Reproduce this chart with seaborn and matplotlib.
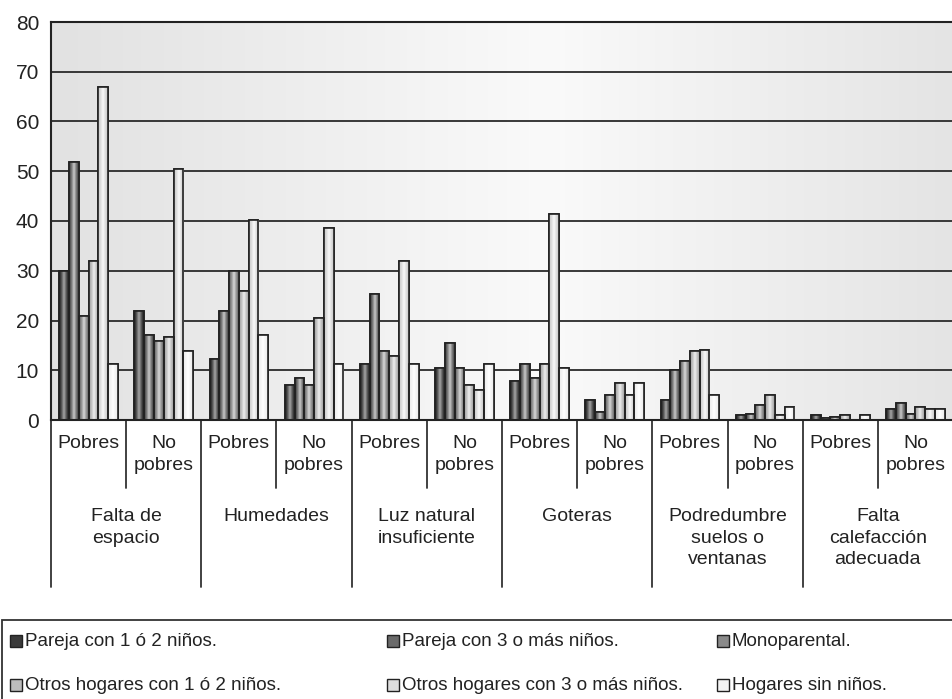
# Problemas de la vivienda según tipo de hogar y pobreza (barras agrupadas).

import numpy as np
import pandas as pd
import matplotlib
matplotlib.use("Agg")
import matplotlib.pyplot as plt
from matplotlib.patches import Rectangle
import seaborn as sns

sns.set_style("white")
plt.rcParams['font.family'] = ['Liberation Sans', 'DejaVu Sans']

categorias = ["Falta de\nespacio", "Humedades", "Luz natural\ninsuficiente", "Goteras",
              "Podredumbre\nsuelos o\nventanas", "Falta\ncalefacción\nadecuada"]
subgrupos = ["Pobres", "No\npobres"]
series = ["Pareja con 1 ó 2 niños.", "Pareja con 3 o más niños.", "Monoparental.",
          "Otros hogares con 1 ó 2 niños.", "Otros hogares con 3 o más niños.", "Hogares sin niños."]

# valores por serie: (Pobres, No pobres) para cada categoría
pareja_1_2 = [30, 22, 12.2, 7, 11.2, 10.5, 7.8, 4, 4, 1.0, 1.1, 2.2]
pareja_3 = [51.8, 17, 22, 8.5, 25.3, 15.5, 11.2, 1.7, 10, 1.3, 0.5, 3.5]
monoparental = [21, 15.8, 30, 7, 13.8, 10.5, 8.5, 5, 11.8, 3, 0.7, 1.2]
otros_1_2 = [32, 16.7, 26, 20.5, 12.8, 7, 11.3, 7.5, 13.8, 5, 1.1, 2.7]
otros_3 = [67, 50.5, 40.2, 38.5, 32, 6, 41.5, 5, 14, 1, 0, 2.2]
sin_ninos = [11.2, 13.8, 17, 11.3, 11.3, 11.3, 10.5, 7.5, 5, 2.7, 1.1, 2.2]
valores = [pareja_1_2, pareja_3, monoparental, otros_1_2, otros_3, sin_ninos]

# colores (borde, centro) de cada serie para el sombreado cilíndrico
tonos = [("#1e1e1e", "#a8a8a8"), ("#3e3e3e", "#cccccc"), ("#646464", "#dadada"),
         ("#a0a0a0", "#f0f0f0"), ("#c8c8c8", "#fafafa"), ("#ececec", "#ffffff")]
medios = ["#3a3a3a", "#6a6a6a", "#8a8a8a", "#bdbdbd", "#dedede", "#f4f4f4"]

posiciones = [f"{c}|{s}" for c in categorias for s in subgrupos]
filas = []
for serie, vals in zip(series, valores):
    for pos, v in zip(posiciones, vals):
        filas.append({"pos": pos, "serie": serie, "valor": v})
df = pd.DataFrame(filas)

fig = plt.figure(figsize=(9.53, 6.99), dpi=100)
W, H = 953, 699
ax = fig.add_axes([51 / W, 1 - 420 / H, (953 - 51) / W, 398 / H])

# fondo degradado del área de trazado
xs = np.linspace(0, 1, 200)
prof = np.interp(xs, [0, 0.55, 1], [0.885, 0.98, 0.895])
fondo = np.dstack([np.tile(prof, (2, 1))] * 3)
ax.imshow(fondo, extent=(0, 1, 0, 1), transform=ax.transAxes, aspect='auto', zorder=0)

sns.barplot(data=df, x="pos", y="valor", hue="serie", order=posiciones, hue_order=series,
            palette=medios, width=0.78, dodge=True, ax=ax,
            edgecolor="#222222", linewidth=1.2, legend=False, errorbar=None)

# sombreado en cada barra
t = np.linspace(-1, 1, 60)
peso = (1 - np.abs(t)) ** 1.3
for i, cont in enumerate(ax.containers):
    c0 = np.array(matplotlib.colors.to_rgb(tonos[i][0]))
    c1 = np.array(matplotlib.colors.to_rgb(tonos[i][1]))
    grad = (c0[None, :] + (c1 - c0)[None, :] * peso[:, None])[None, :, :]
    for bar in cont:
        x0, w, h = bar.get_x(), bar.get_width(), bar.get_height()
        if h <= 0:
            continue
        im = ax.imshow(grad, extent=(x0, x0 + w, 0, h), aspect='auto', zorder=1.6,
                       interpolation='bilinear')
        im.set_clip_path(bar)
        bar.set_zorder(1.5)
        # borde por encima del degradado
        ax.add_patch(Rectangle((x0, 0), w, h, facecolor="none", edgecolor="#222222",
                               lw=1.2, zorder=1.7))

ax.set_xlim(-0.5, 11.5)
ax.set_ylim(0, 80)
ax.set_yticks(range(0, 81, 10))
ax.set_yticklabels([str(v) for v in range(0, 81, 10)], fontsize=15, color="#222222")
ax.tick_params(axis='y', length=6.5, width=1, color="#333333", pad=2)
ax.set_xticks([])
ax.set_xlabel("")
ax.set_ylabel("")
ax.yaxis.grid(True, color="#2a2a2a", lw=1.3, zorder=1)
ax.set_axisbelow(True)
for s in ["left", "bottom", "top"]:
    ax.spines[s].set_color("#222222")
    ax.spines[s].set_linewidth(1.5)
ax.spines["right"].set_visible(False)

# tabla de categorías bajo el eje
tr = ax.get_xaxis_transform()
fondo_sub = (420 - 488) / 398
fondo_grp = (420 - 587) / 398
for k in range(6):
    ax.plot([-0.5 + 2 * k] * 2, [0, fondo_grp], color="#333333", lw=1.3, transform=tr, clip_on=False)
    ax.plot([0.5 + 2 * k] * 2, [0, fondo_sub], color="#333333", lw=1.3, transform=tr, clip_on=False)
    ax.text(2 * k + 0.5, (420 - 508) / 398, categorias[k], transform=tr, ha='center', va='top',
            fontsize=14, linespacing=1.35, color="#222222")
    for j, s in enumerate(subgrupos):
        ax.text(2 * k + j, (420 - 435) / 398, s, transform=tr, ha='center', va='top',
                fontsize=14, linespacing=1.35, color="#222222")

# leyenda en recuadro
fig.add_artist(Rectangle((2 / W, -0.05), 1.2, (699 - 620) / H + 0.05, transform=fig.transFigure,
                         facecolor="none", edgecolor="#333333", lw=1.3))
col_x = [10, 387, 717]
fila_y = [641, 685]
for i, serie in enumerate(series):
    cx = col_x[i % 3]
    cy = fila_y[i // 3]
    fig.add_artist(Rectangle((cx / W, 1 - (cy + 6) / H), 12 / W, 12 / H, transform=fig.transFigure,
                             facecolor=medios[i], edgecolor="#222222", lw=1.0))
    fig.text((cx + 15) / W, 1 - cy / H, serie, ha='left', va='center', fontsize=13.5, color="#222222")

fig.savefig("out.png", dpi=100)
